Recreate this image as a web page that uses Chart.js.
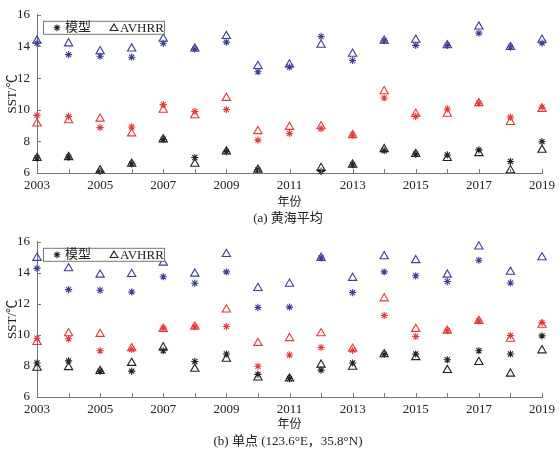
<!DOCTYPE html>
<html>
<head>
<meta charset="utf-8">
<script src="https://cdn.jsdelivr.net/npm/chart.js@4.4.1/dist/chart.umd.min.js"></script>
<style>
  body { margin: 0; background: #fff; }
  #wrap { position: relative; width: 560px; height: 454px; font-family: 'Liberation Serif', 'Noto Sans CJK SC', serif; color: #222; }
  .panel { position: absolute; left: 0; width: 560px; height: 227px; }
  .caption { position: absolute; left: 0; width: 576px; text-align: center; font-size: 13px; line-height: 14px; }
</style>
</head>
<body>
<div id="wrap">
  <div class="panel" style="top:0"><canvas id="chartA" width="560" height="227"></canvas></div>
  <div class="panel" style="top:227px"><canvas id="chartB" width="560" height="227"></canvas></div>
  <div class="caption" style="top:211px">(a) 黄海平均</div>
  <div class="caption" style="top:434px">(b) 单点 (123.6°E，35.8°N)</div>
</div>
<script>
// years on the x axis
const years = [2003, 2004, 2005, 2006, 2007, 2008, 2009, 2010, 2011, 2012, 2013, 2014, 2015, 2016, 2017, 2018, 2019];
const yTicks = [6, 8, 10, 12, 14, 16];

// (a) Yellow Sea average
const blueModelA = [14.2, 13.48, 13.38, 13.32, 14.2, 13.83, 14.27, 12.4, 12.7, 14.63, 13.11, 14.36, 14.07, 14.07, 14.84, 13.96, 14.21];
const blueObsA = [14.36, 14.19, 13.69, 13.86, 14.48, 13.86, 14.65, 12.76, 12.86, 14.1, 13.53, 14.36, 14.42, 14.07, 15.25, 13.96, 14.42];
const redModelA = [9.64, 9.58, 8.87, 8.91, 10.32, 9.89, 10.01, 8.08, 8.5, 8.8, 8.39, 10.74, 9.58, 10.05, 10.41, 9.53, 10.16];
const redObsA = [9.12, 9.33, 9.43, 8.5, 9.99, 9.64, 10.74, 8.64, 8.91, 8.95, 8.39, 11.16, 9.74, 9.74, 10.41, 9.22, 10.05];
const blackModelA = [6.95, 7.0, 6.1, 6.58, 8.12, 6.98, 7.35, 6.2, null, 6.1, 6.52, 7.41, 7.19, 7.14, 7.46, 6.73, 7.98];
const blackObsA = [6.94, 7.0, 6.17, 6.58, 8.12, 6.58, 7.35, 6.2, null, 6.31, 6.52, 7.5, 7.19, 6.94, 7.25, 6.17, 7.46];

// (b) single point (123.6E, 35.8N)
const blueModelB = [14.29, 12.92, 12.88, 12.77, 13.75, 13.33, 14.06, 11.77, 11.79, 14.96, 12.73, 14.06, 13.81, 13.44, 14.81, 13.35, null];
const blueObsB = [14.96, 14.29, 13.88, 13.92, 14.65, 13.94, 15.21, 13.02, 13.29, 14.96, 13.67, 15.06, 14.81, 13.88, 15.69, 14.06, 15.0];
const redModelB = [9.79, 9.75, 8.98, 9.06, 10.44, 10.52, 10.54, 7.98, 8.71, 9.19, 9.0, 11.25, 9.9, 10.27, 10.9, 9.96, 10.79];
const redObsB = [9.54, 10.1, 10.06, 9.13, 10.38, 10.52, 11.63, 9.48, 9.79, 10.1, 9.1, 12.35, 10.38, 10.27, 10.9, 9.75, 10.65];
const blackModelB = [8.19, 8.33, 7.67, 7.67, 8.98, 8.29, 8.77, 7.46, 7.19, 7.73, 8.19, 8.75, 8.77, 8.4, 8.98, 8.77, 9.94];
const blackObsB = [7.88, 7.92, 7.67, 8.19, 9.19, 7.81, 8.46, 7.25, 7.19, 8.08, 7.94, 8.75, 8.56, 7.73, 8.25, 7.5, 9.0];

const BLUE = '#3c3c9c';
const RED = '#e6393b';
const BLACK = '#222222';
const FONT = "'Liberation Serif', 'Noto Sans CJK SC', serif";

Chart.defaults.font.family = FONT;
Chart.defaults.font.size = 13;
Chart.defaults.color = '#222';

function toPoints(values) {
  const pts = [];
  values.forEach((v, i) => { if (v !== null) pts.push({ x: years[i], y: v }); });
  return pts;
}

function makeSet(values, color, style) {
  return {
    data: toPoints(values),
    showLine: false,
    pointStyle: style,
    pointRadius: style === 'star' ? 3.6 : 4.8,
    pointBorderWidth: 1.1,
    borderColor: color,
    backgroundColor: 'rgba(0,0,0,0)',
    pointBackgroundColor: 'rgba(0,0,0,0)',
    clip: false
  };
}

// short inward tick marks on left and bottom axes
const inwardTicks = {
  id: 'inwardTicks',
  afterDraw(chart) {
    const { ctx, chartArea, scales } = chart;
    ctx.save();
    ctx.strokeStyle = '#777';
    ctx.lineWidth = 1;
    ctx.beginPath();
    scales.y.ticks.forEach(t => {
      const py = Math.round(scales.y.getPixelForValue(t.value)) + 0.5;
      ctx.moveTo(chartArea.left, py);
      ctx.lineTo(chartArea.left + 4, py);
    });
    scales.x.ticks.forEach(t => {
      const px = Math.round(scales.x.getPixelForValue(t.value)) + 0.5;
      ctx.moveTo(px, chartArea.bottom);
      ctx.lineTo(px, chartArea.bottom - 4);
    });
    ctx.stroke();
    ctx.restore();
  }
};

// boxed legend in the upper-left corner of the plot
const boxLegend = {
  id: 'boxLegend',
  afterDatasetsDraw(chart) {
    const { ctx, chartArea } = chart;
    const x0 = chartArea.left + 6, y0 = chartArea.top + 6, w = 121, h = 13;
    ctx.save();
    ctx.fillStyle = '#fff';
    ctx.fillRect(x0, y0, w, h);
    ctx.strokeStyle = '#777';
    ctx.lineWidth = 1;
    ctx.strokeRect(x0 + 0.5, y0 + 0.5, w, h);
    const cy = y0 + h / 2 + 0.5;
    ctx.strokeStyle = BLACK;
    ctx.lineWidth = 1.1;
    Chart.helpers.drawPoint(ctx, { pointStyle: 'star', radius: 3.4, borderWidth: 1.1 }, x0 + 14, cy);
    ctx.fillStyle = 'rgba(0,0,0,0)';
    Chart.helpers.drawPoint(ctx, { pointStyle: 'triangle', radius: 4.4, borderWidth: 1.1 }, x0 + 71, cy + 0.5);
    ctx.fillStyle = '#222';
    ctx.font = '13px ' + FONT;
    ctx.textBaseline = 'middle';
    ctx.fillText('模型', x0 + 22, cy);
    ctx.fillText('AVHRR', x0 + 77, cy + 0.5);
    ctx.restore();
  }
};

function buildChart(id, sets, padTop, padBottom, xHeight) {
  return new Chart(document.getElementById(id), {
    type: 'scatter',
    data: {
      datasets: [
        makeSet(sets[0], BLUE, 'star'), makeSet(sets[1], BLUE, 'triangle'),
        makeSet(sets[2], RED, 'star'), makeSet(sets[3], RED, 'triangle'),
        makeSet(sets[4], BLACK, 'star'), makeSet(sets[5], BLACK, 'triangle')
      ]
    },
    options: {
      responsive: false,
      animation: false,
      layout: { padding: { top: padTop, right: 18, bottom: padBottom, left: 0 } },
      plugins: { legend: { display: false }, tooltip: { enabled: false } },
      scales: {
        x: {
          type: 'linear',
          min: years[0],
          max: years[years.length - 1],
          grid: { display: false, drawTicks: false },
          border: { display: true, color: '#777' },
          ticks: {
            stepSize: 1,
            autoSkip: false,
            maxRotation: 0,
            padding: 5,
            callback: v => (v % 2 === 1 ? String(v) : '')
          },
          title: { display: true, text: '年份', padding: 0, font: { size: 12 } },
          afterFit: s => { s.height = xHeight; }
        },
        y: {
          min: yTicks[0],
          max: yTicks[yTicks.length - 1],
          grid: { display: false, drawTicks: false },
          border: { display: true, color: '#777' },
          ticks: { stepSize: 2, padding: 7 },
          title: { display: true, text: 'SST/℃', padding: { top: 5, bottom: 0 } },
          afterFit: s => { s.width = 37; }
        }
      }
    },
    plugins: [inwardTicks, boxLegend]
  });
}

buildChart('chartA', [blueModelA, blueObsA, redModelA, redObsA, blackModelA, blackObsA], 13, 17, 37);
buildChart('chartB', [blueModelB, blueObsB, redModelB, redObsB, blackModelB, blackObsB], 10, 22, 35);
</script>
</body>
</html>
